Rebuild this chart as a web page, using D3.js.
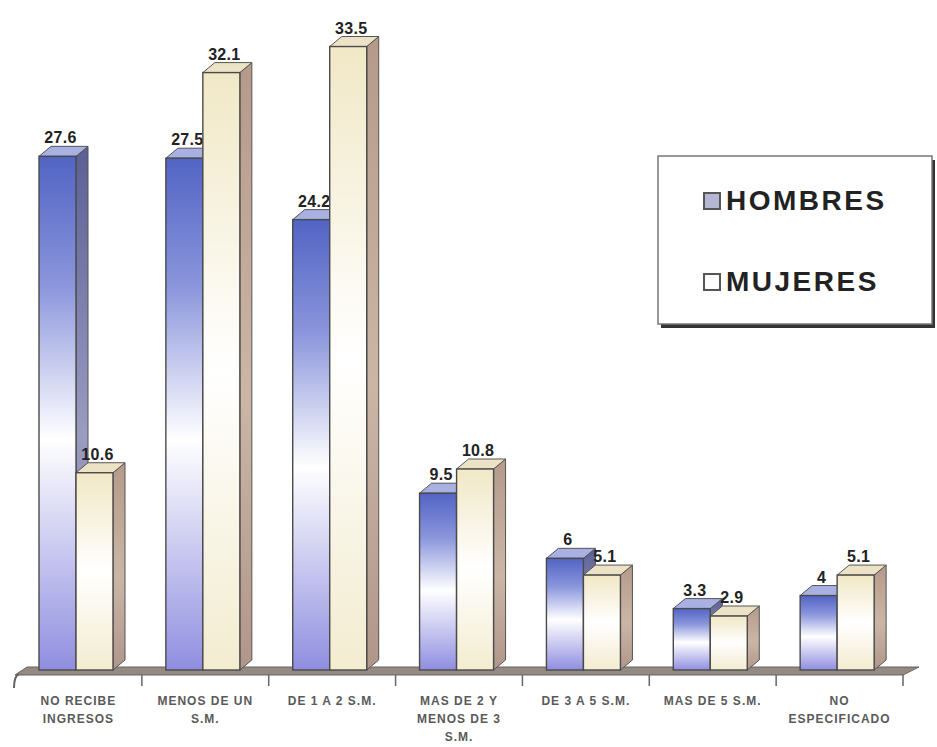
<!DOCTYPE html>
<html>
<head>
<meta charset="utf-8">
<script src="https://cdn.jsdelivr.net/npm/d3@7"></script>
<style>
  html, body { margin: 0; padding: 0; background: #fff; }
  svg { display: block; font-family: "Liberation Sans", Arial, sans-serif; }
</style>
</head>
<body>
<div id="chart"></div>
<script>
"use strict";

// category labels, one entry per line of the tick label
const categoryLines = [
  ["NO RECIBE", "INGRESOS"],
  ["MENOS DE UN", "S.M."],
  ["DE 1 A 2 S.M."],
  ["MAS DE 2 Y", "MENOS DE 3", "S.M."],
  ["DE 3 A 5 S.M."],
  ["MAS DE 5 S.M."],
  ["NO", "ESPECIFICADO"]
];
const categories = categoryLines.map((l) => l.join(" "));
const seriesNames = ["HOMBRES", "MUJERES"];
const hombres = [27.6, 27.5, 24.2, 9.5, 6, 3.3, 4];
const mujeres = [10.6, 32.1, 33.5, 10.8, 5.1, 2.9, 5.1];

const width = 937, height = 747;
const base = 670;          // front bottom of the bars
const depthX = 12, depthY = 10;
const barW = 37;

const svg = d3.select("#chart").append("svg")
  .attr("width", width)
  .attr("height", height);

svg.append("rect").attr("width", width).attr("height", height).attr("fill", "#fff");

const defs = svg.append("defs");

function vGrad(id, stops) {
  let g = defs.append("linearGradient").attr("id", id)
    .attr("x1", 0).attr("y1", 0).attr("x2", 0).attr("y2", 1);
  stops.forEach((s) => g.append("stop").attr("offset", s[0]).attr("stop-color", s[1]));
}
vGrad("gH", [[0, "#5264c4"], [0.25, "#8a95dc"], [0.55, "#ffffff"], [1, "#8f8ee0"]]);
vGrad("gM", [[0, "#f1e8c6"], [0.5, "#ffffff"], [1, "#f3ecd0"]]);
vGrad("gHs", [[0, "#5a5f94"], [0.55, "#9a9cc0"], [1, "#6e6f9c"]]);
vGrad("gMs", [[0, "#b59a8a"], [0.55, "#cbb6a6"], [1, "#b0968a"]]);

const x = d3.scaleBand()
  .domain(categories)
  .range([15, 903])
  .paddingInner(0);

const y = d3.scaleLinear()
  .domain([0, 36])
  .range([base, 0]);

const styles = [
  { front: "url(#gH)", side: "url(#gHs)", top: "#a9b1e2", offset: 24 },
  { front: "url(#gM)", side: "url(#gMs)", top: "#ece2c6", offset: 24 + barW }
];

// floor strip
let x0 = x.range()[0], x1 = x.range()[1];
svg.append("polygon")
  .attr("points", [[x0, base + 5], [x1, base + 5], [x1 + depthX + 4, base - 3], [x0 + depthX, base - 3]].join(" "))
  .attr("fill", "#948a84")
  .attr("stroke", "#6a625e")
  .attr("stroke-width", 1);
svg.append("path")
  .attr("d", "M" + (x0 + 4) + "," + (base + 4) + " Q" + (x0 - 1) + "," + (base + 6) + " " + (x0 - 1) + "," + (base + 18))
  .attr("fill", "none")
  .attr("stroke", "#6a625e")
  .attr("stroke-width", 2);

// ticks between the groups
svg.append("g").selectAll("line")
  .data(categories)
  .enter()
  .append("line")
  .attr("x1", (d) => x(d) + x.bandwidth())
  .attr("x2", (d) => x(d) + x.bandwidth())
  .attr("y1", base + 5)
  .attr("y2", base + 16)
  .attr("stroke", "#666")
  .attr("stroke-width", 1.5);

function drawBar(g, cat, value, s) {
  let bx = x(cat) + s.offset, top = y(value);
  g.append("polygon")
    .attr("points", [[bx + barW, top], [bx + barW + depthX, top - depthY], [bx + barW + depthX, base - depthY], [bx + barW, base]].join(" "))
    .attr("fill", s.side).attr("stroke", "#555").attr("stroke-width", 1);
  g.append("polygon")
    .attr("points", [[bx, top], [bx + depthX, top - depthY], [bx + barW + depthX, top - depthY], [bx + barW, top]].join(" "))
    .attr("fill", s.top).attr("stroke", "#555").attr("stroke-width", 1);
  g.append("rect")
    .attr("x", bx).attr("y", top)
    .attr("width", barW).attr("height", base - top)
    .attr("fill", s.front).attr("stroke", "#4a4a4a").attr("stroke-width", 1.4);
  g.append("text")
    .attr("x", bx + barW / 2 + 3)
    .attr("y", top - depthY - 3)
    .attr("text-anchor", "middle")
    .attr("font-size", 16)
    .attr("font-weight", "bold")
    .attr("letter-spacing", 0.3)
    .attr("fill", "#222")
    .text(value);
}

let bars = svg.append("g");
categories.forEach((c, i) => {
  let g = bars.append("g");
  drawBar(g, c, hombres[i], styles[0]);
  drawBar(g, c, mujeres[i], styles[1]);
});

// category labels
let labels = svg.append("g");
categoryLines.forEach((lines, i) => {
  let t = labels.append("text")
    .attr("text-anchor", "middle")
    .attr("font-size", 12)
    .attr("font-weight", "bold")
    .attr("letter-spacing", 1)
    .attr("fill", "#5a5a5a");
  lines.forEach((l, j) => {
    t.append("tspan")
      .attr("x", x(categories[i]) + x.bandwidth() / 2)
      .attr("y", 705 + j * 18)
      .text(l);
  });
});

// legend
let legend = svg.append("g");
legend.append("rect")
  .attr("x", 661).attr("y", 160).attr("width", 274).attr("height", 168)
  .attr("fill", "#333");
legend.append("rect")
  .attr("x", 658).attr("y", 156).attr("width", 274).attr("height", 168)
  .attr("fill", "#fff").attr("stroke", "#777").attr("stroke-width", 1.5);

let legendFill = ["#b4b6d4", "#ffffff"];
seriesNames.forEach((name, i) => {
  let ly = 193 + i * 81;
  legend.append("rect")
    .attr("x", 704).attr("y", ly).attr("width", 16).attr("height", 16)
    .attr("fill", legendFill[i]).attr("stroke", "#555").attr("stroke-width", 2);
  legend.append("text")
    .attr("x", 726).attr("y", ly + 17)
    .attr("font-size", 28)
    .attr("font-weight", "bold")
    .attr("letter-spacing", 2.5)
    .attr("fill", "#222")
    .text(name);
});
</script>
</body>
</html>
